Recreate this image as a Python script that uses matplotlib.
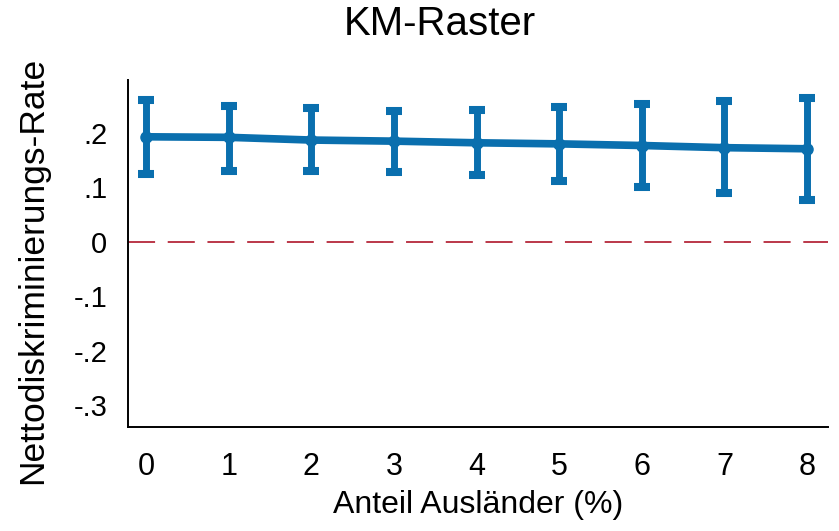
import matplotlib
matplotlib.use("Agg")
import matplotlib.pyplot as plt

x = [0, 1, 2, 3, 4, 5, 6, 7, 8]
rate = [0.193, 0.192, 0.187, 0.185, 0.182, 0.180, 0.177, 0.173, 0.171]
ci_low = [0.125, 0.131, 0.131, 0.128, 0.122, 0.111, 0.101, 0.089, 0.077]
ci_high = [0.260, 0.250, 0.245, 0.241, 0.242, 0.247, 0.253, 0.259, 0.265]
yticks = [0.2, 0.1, 0.0, -0.1, -0.2, -0.3]
ytick_labels = [".2", ".1", "0", "-.1", "-.2", "-.3"]

base = "Liberation Sans"
blue = "#0a6fae"
fig = plt.figure(figsize=(8.39, 5.31), dpi=100)
ax = fig.add_axes([0.1526, 0.196, 0.834, 0.653])

err = [[r - l for r, l in zip(rate, ci_low)], [h - r for r, h in zip(rate, ci_high)]]
ax.errorbar(x, rate, yerr=err, color=blue, lw=5.5, marker="o", ms=8,
            elinewidth=5, capsize=5.8, capthick=5.8, zorder=3)
ax.axhline(0, color="#b5283a", lw=1.3, dashes=(15, 7), zorder=2)

ax.set_xlim(-0.22, 8.25)
ax.set_ylim(-0.34, 0.297)
ax.set_xticks(x)
ax.set_xticklabels([str(v) for v in x], fontfamily=base, fontsize=22)
ax.set_yticks(yticks)
ax.set_yticklabels(ytick_labels, fontfamily=base, fontsize=21)
ax.tick_params(axis="x", length=0, pad=18)
ax.tick_params(axis="y", length=0, pad=15)
for s in ["top", "right"]:
    ax.spines[s].set_visible(False)
for s in ["left", "bottom"]:
    ax.spines[s].set_linewidth(1.4)

ax.set_xlabel("Anteil Ausländer (%)", fontfamily=base, fontsize=23, labelpad=6)
ax.set_ylabel("Nettodiskriminierungs-Rate", fontfamily=base, fontsize=25.5)
ax.yaxis.set_label_coords(-0.113, 0.452)
fig.text(0.524, 0.955, "KM-Raster", ha="center", va="center", fontfamily=base, fontsize=29)

fig.savefig("out.png", dpi=100)
